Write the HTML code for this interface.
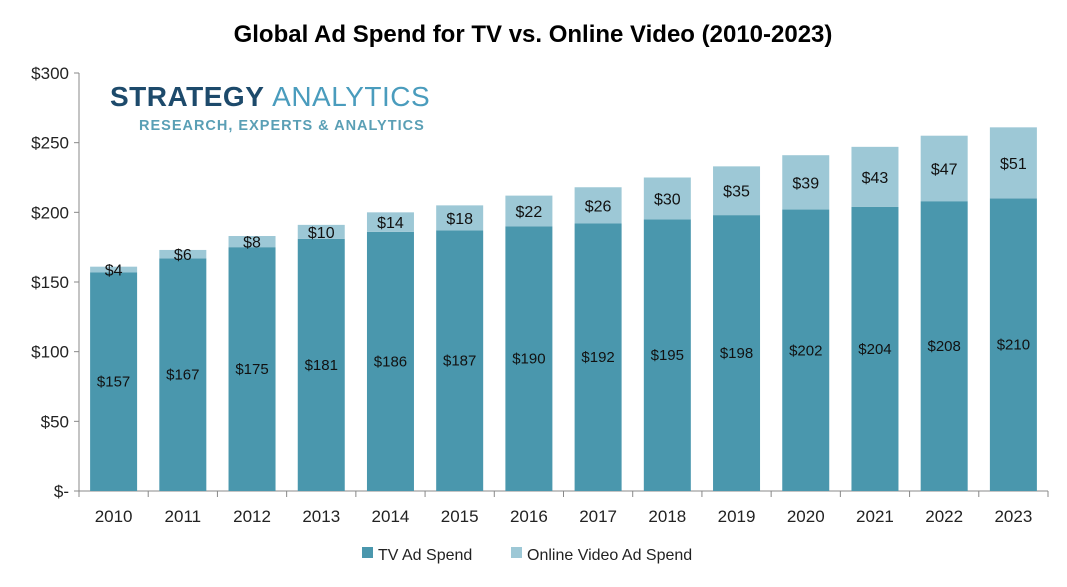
<!DOCTYPE html>
<html><head><meta charset="utf-8"><style>
body{margin:0;background:#fff;width:1067px;height:582px;overflow:hidden;font-family:"Liberation Sans",sans-serif}
</style></head><body>
<svg id="chart" width="1067" height="582" xmlns="http://www.w3.org/2000/svg">
<text x="533" y="42" text-anchor="middle" font-size="24" font-weight="bold" fill="#000">Global Ad Spend for TV vs. Online Video (2010-2023)</text>
<g>
<text x="110" y="106" font-size="28" font-weight="bold" fill="#1d4a6b" letter-spacing="0.5">STRATEGY <tspan fill="#4a9cbd" font-weight="normal">ANALYTICS</tspan></text>
<text x="139" y="130" font-size="14.5" font-weight="bold" fill="#5a9fb5" letter-spacing="1">RESEARCH, EXPERTS &amp; ANALYTICS</text>
</g>
<g id="axes"></g>
<g id="bars"></g>
<g>
<rect x="362" y="547" width="11" height="11" fill="#4a97ad"/>
<text x="378" y="560" font-size="16" fill="#222">TV Ad Spend</text>
<rect x="511" y="547" width="11" height="11" fill="#9dc8d6"/>
<text x="527" y="560" font-size="16" fill="#222">Online Video Ad Spend</text>
</g>
</svg>
<script>
const years=["2010","2011","2012","2013","2014","2015","2016","2017","2018","2019","2020","2021","2022","2023"];
const tvSpend=[157,167,175,181,186,187,190,192,195,198,202,204,208,210];
const onlineSpend=[4,6,8,10,14,18,22,26,30,35,39,43,47,51];
const yTicks=[0,50,100,150,200,250,300];
const yTickLabels=["$-","$50","$100","$150","$200","$250","$300"];
const NS="http://www.w3.org/2000/svg";
const x0=79,x1=1048,y0=491,y1=73,yMax=300;
const band=(x1-x0)/years.length;
const yS=v=>y0-(v/yMax)*(y0-y1);
const xC=i=>x0+band*(i+0.5);
const bw=47;
function mk(t,a,p){const e=document.createElementNS(NS,t);for(const k in a)e.setAttribute(k,a[k]);p.appendChild(e);return e;}
const ax=document.getElementById('axes'),bars=document.getElementById('bars');
mk('line',{x1:x0,y1:y1,x2:x0,y2:y0,stroke:'#888'},ax);
mk('line',{x1:x0,y1:y0,x2:x1,y2:y0,stroke:'#888'},ax);
yTicks.forEach((v,i)=>{
 mk('line',{x1:x0-5,y1:yS(v),x2:x0,y2:yS(v),stroke:'#888'},ax);
 const t=mk('text',{x:x0-10,y:yS(v)+6,'text-anchor':'end','font-size':17,fill:'#222'},ax);
 
 
 t.textContent=yTickLabels[i];
});
for(let i=0;i<=years.length;i++)mk('line',{x1:x0+band*i,y1:y0,x2:x0+band*i,y2:y0+6,stroke:'#888'},ax);
years.forEach((yr,i)=>{
 const t=mk('text',{x:xC(i),y:522,'text-anchor':'middle','font-size':17,fill:'#222'},ax);
 
 
 t.textContent=yr;
 const tv=tvSpend[i],on=onlineSpend[i];
 const r1=mk('rect',{x:xC(i)-bw/2,y:yS(tv),width:bw,height:y0-yS(tv),fill:'#4a97ad'},bars);
 
 
 const r2=mk('rect',{x:xC(i)-bw/2,y:yS(tv+on),width:bw,height:yS(tv)-yS(tv+on),fill:'#9dc8d6'},bars);
 
 
 const l1=mk('text',{x:xC(i),y:(yS(tv)+y0)/2+5,'text-anchor':'middle','font-size':15,fill:'#111'},bars);
 
 
 l1.textContent='$'+tv;
 const l2=mk('text',{x:xC(i),y:(yS(tv)+yS(tv+on))/2+6,'text-anchor':'middle','font-size':16,fill:'#111'},bars);
 
 
 l2.textContent='$'+on;
});
</script>
</body></html>
